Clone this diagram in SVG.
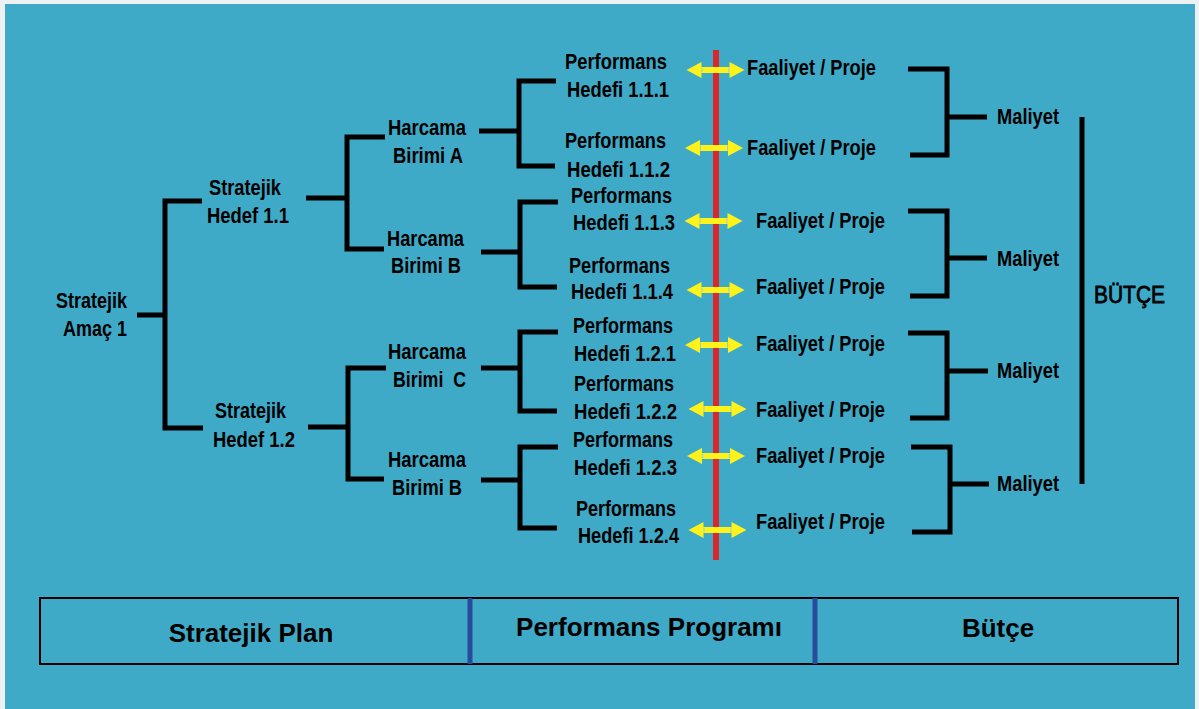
<svg xmlns="http://www.w3.org/2000/svg" width="1199" height="709" viewBox="0 0 1199 709">
<style>
.t{font-family:"Liberation Sans",Arial,sans-serif;font-weight:bold;font-size:21.5px;fill:#000}
.b{font-family:"Liberation Sans",Arial,sans-serif;font-weight:bold;font-size:26px;fill:#000}
.br{fill:none;stroke:#000;stroke-width:5;stroke-linejoin:miter;stroke-linecap:butt}
.arr{fill:#FFF21A}
.tick{stroke:#8CCFE0;stroke-width:1;fill:none}
</style>
<defs>
<g id="dbl">
<path class="arr" d="M-29,0 L-14,-8 L-14,-3 L14,-3 L14,-8 L29,0 L14,8 L14,3 L-14,3 L-14,8 Z"/>
<path class="tick" d="M-13.5,-2.5 V2.5 M13.5,-2.5 V2.5"/>
</g>
</defs>
<rect x="0" y="0" width="1199" height="709" fill="#EDF1F3"/>
<rect x="5" y="4" width="1190" height="705" fill="#3EAAC7"/>

<g id="connectors">
<path class="br" d="M137,315 H165 M202,201 H165 V428 H203"/>
<path class="br" d="M306,198 H347 M385,137 H347 V249 H384"/>
<path class="br" d="M308,427 H348 M386,368 H348 V479 H384"/>
<path class="br" d="M479,131 H519 M556,81 H519 V166 H555"/>
<path class="br" d="M481,252 H520 M558,202 H520 V287 H557"/>
<path class="br" d="M481,368 H520 M558,332 H520 V411 H557"/>
<path class="br" d="M481,480 H520 M558,447 H520 V528 H557"/>
<path class="br" d="M908,69 H947 V155 H910 M947,117 H987"/>
<path class="br" d="M908,211 H947 V296 H910 M947,258 H987"/>
<path class="br" d="M908,333 H947 V418 H910 M947,371 H988"/>
<path class="br" d="M911,447 H950 V532 H912 M950,484 H989"/>
<path class="br" d="M1082,117 V484"/>
<rect x="713" y="50" width="6" height="510" fill="#D8282C"/>
<use href="#dbl" x="715.5" y="70"/>
<use href="#dbl" x="714" y="148"/>
<use href="#dbl" x="713.5" y="221"/>
<use href="#dbl" x="715.5" y="290"/>
<use href="#dbl" x="714" y="345"/>
<use href="#dbl" x="717.5" y="409"/>
<use href="#dbl" x="716" y="456"/>
<use href="#dbl" x="717.5" y="530"/>
</g>

<g id="amac1"><text class="t" x="56" y="308" textLength="71" lengthAdjust="spacingAndGlyphs">Stratejik</text><text class="t" x="63" y="336" textLength="64" lengthAdjust="spacingAndGlyphs">Amaç 1</text></g>
<g id="hedef11"><text class="t" x="209" y="195" textLength="72" lengthAdjust="spacingAndGlyphs">Stratejik</text><text class="t" x="207" y="223" textLength="82" lengthAdjust="spacingAndGlyphs">Hedef 1.1</text></g>
<g id="hedef12"><text class="t" x="215" y="418" textLength="71" lengthAdjust="spacingAndGlyphs">Stratejik</text><text class="t" x="213" y="447" textLength="82" lengthAdjust="spacingAndGlyphs">Hedef 1.2</text></g>

<g id="birimA"><text class="t" x="388" y="135" textLength="78" lengthAdjust="spacingAndGlyphs">Harcama</text><text class="t" x="393" y="163" textLength="70" lengthAdjust="spacingAndGlyphs">Birimi A</text></g>
<g id="birimB1"><text class="t" x="387" y="246" textLength="77" lengthAdjust="spacingAndGlyphs">Harcama</text><text class="t" x="391" y="273" textLength="70" lengthAdjust="spacingAndGlyphs">Birimi B</text></g>
<g id="birimC"><text class="t" x="388" y="359" textLength="78" lengthAdjust="spacingAndGlyphs">Harcama</text><text class="t" x="393" y="387" textLength="73" lengthAdjust="spacingAndGlyphs" xml:space="preserve">Birimi  C</text></g>
<g id="birimB2"><text class="t" x="388" y="467" textLength="78" lengthAdjust="spacingAndGlyphs">Harcama</text><text class="t" x="392" y="495" textLength="70" lengthAdjust="spacingAndGlyphs">Birimi B</text></g>

<g id="ph111"><text class="t" x="565" y="69" textLength="102" lengthAdjust="spacingAndGlyphs">Performans</text><text class="t" x="567" y="97" textLength="102" lengthAdjust="spacingAndGlyphs">Hedefi 1.1.1</text></g>
<g id="ph112"><text class="t" x="565" y="148" textLength="101" lengthAdjust="spacingAndGlyphs">Performans</text><text class="t" x="567" y="177" textLength="103" lengthAdjust="spacingAndGlyphs">Hedefi 1.1.2</text></g>
<g id="ph113"><text class="t" x="571" y="203" textLength="101" lengthAdjust="spacingAndGlyphs">Performans</text><text class="t" x="573" y="230" textLength="102" lengthAdjust="spacingAndGlyphs">Hedefi 1.1.3</text></g>
<g id="ph114"><text class="t" x="569" y="273" textLength="101" lengthAdjust="spacingAndGlyphs">Performans</text><text class="t" x="571" y="299" textLength="102" lengthAdjust="spacingAndGlyphs">Hedefi 1.1.4</text></g>
<g id="ph121"><text class="t" x="573" y="333" textLength="100" lengthAdjust="spacingAndGlyphs">Performans</text><text class="t" x="574" y="361" textLength="102" lengthAdjust="spacingAndGlyphs">Hedefi 1.2.1</text></g>
<g id="ph122"><text class="t" x="574" y="391" textLength="100" lengthAdjust="spacingAndGlyphs">Performans</text><text class="t" x="574" y="419" textLength="103" lengthAdjust="spacingAndGlyphs">Hedefi 1.2.2</text></g>
<g id="ph123"><text class="t" x="573" y="447" textLength="100" lengthAdjust="spacingAndGlyphs">Performans</text><text class="t" x="574" y="475" textLength="103" lengthAdjust="spacingAndGlyphs">Hedefi 1.2.3</text></g>
<g id="ph124"><text class="t" x="576" y="516" textLength="100" lengthAdjust="spacingAndGlyphs">Performans</text><text class="t" x="578" y="543" textLength="101" lengthAdjust="spacingAndGlyphs">Hedefi 1.2.4</text></g>

<g id="fp1"><text class="t" x="747" y="75" textLength="129" lengthAdjust="spacingAndGlyphs">Faaliyet / Proje</text></g>
<g id="fp2"><text class="t" x="747" y="155" textLength="129" lengthAdjust="spacingAndGlyphs">Faaliyet / Proje</text></g>
<g id="fp3"><text class="t" x="756" y="228" textLength="129" lengthAdjust="spacingAndGlyphs">Faaliyet / Proje</text></g>
<g id="fp4"><text class="t" x="756" y="294" textLength="129" lengthAdjust="spacingAndGlyphs">Faaliyet / Proje</text></g>
<g id="fp5"><text class="t" x="756" y="351" textLength="129" lengthAdjust="spacingAndGlyphs">Faaliyet / Proje</text></g>
<g id="fp6"><text class="t" x="756" y="417" textLength="129" lengthAdjust="spacingAndGlyphs">Faaliyet / Proje</text></g>
<g id="fp7"><text class="t" x="756" y="463" textLength="129" lengthAdjust="spacingAndGlyphs">Faaliyet / Proje</text></g>
<g id="fp8"><text class="t" x="756" y="529" textLength="129" lengthAdjust="spacingAndGlyphs">Faaliyet / Proje</text></g>

<g id="maliyet1"><text class="t" x="997" y="124" textLength="62" lengthAdjust="spacingAndGlyphs">Maliyet</text></g>
<g id="maliyet2"><text class="t" x="997" y="266" textLength="62" lengthAdjust="spacingAndGlyphs">Maliyet</text></g>
<g id="maliyet3"><text class="t" x="997" y="378" textLength="62" lengthAdjust="spacingAndGlyphs">Maliyet</text></g>
<g id="maliyet4"><text class="t" x="997" y="491" textLength="62" lengthAdjust="spacingAndGlyphs">Maliyet</text></g>

<g id="butce"><text x="1094" y="303" font-family="Liberation Sans, Arial, sans-serif" font-size="24" fill="#000" stroke="#000" stroke-width="0.8" textLength="71" lengthAdjust="spacingAndGlyphs">BÜTÇE</text></g>

<g id="table">
<rect x="40" y="598" width="1138" height="66" fill="none" stroke="#000" stroke-width="2"/>
<line x1="470" y1="598" x2="470" y2="664" stroke="#2A4A9C" stroke-width="5"/>
<line x1="815" y1="598" x2="815" y2="664" stroke="#2A4A9C" stroke-width="5"/>
<text class="b" x="251" y="642" text-anchor="middle">Stratejik Plan</text>
<text class="b" x="649" y="636" text-anchor="middle">Performans Programı</text>
<text class="b" x="998" y="637" text-anchor="middle">Bütçe</text>
</g>
</svg>
